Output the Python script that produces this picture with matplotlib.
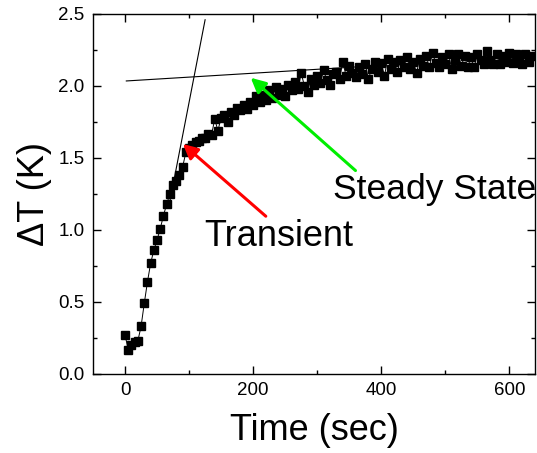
import numpy as np
import matplotlib.pyplot as plt
from matplotlib.ticker import MultipleLocator

plt.rcParams['font.family'] = ['Liberation Sans', 'DejaVu Sans']

# Temperature rise vs. time (5 s sampling)
t = [0, 5, 10, 15, 20, 25, 30, 35, 40, 45, 50, 55, 60, 65, 70, 75, 80, 85, 90, 95,
     100, 105, 110, 115, 120, 125, 130, 135, 140, 145, 150, 155, 160, 165, 170, 175,
     180, 185, 190, 195, 200, 205, 210, 215, 220, 225, 230, 235, 240, 245, 250, 255,
     260, 265, 270, 275, 280, 285, 290, 295, 300, 305, 310, 315, 320, 325, 330, 335,
     340, 345, 350, 355, 360, 365, 370, 375, 380, 385, 390, 395, 400, 405, 410, 415,
     420, 425, 430, 435, 440, 445, 450, 455, 460, 465, 470, 475, 480, 485, 490, 495,
     500, 505, 510, 515, 520, 525, 530, 535, 540, 545, 550, 555, 560, 565, 570, 575,
     580, 585, 590, 595, 600, 605, 610, 615, 620, 625, 630, 635]
dT = [0.27, 0.17, 0.20, 0.22, 0.23, 0.33, 0.49, 0.64, 0.77, 0.86, 0.93, 1.01, 1.10, 1.18,
      1.25, 1.31, 1.34, 1.38, 1.44, 1.54, 1.57, 1.59, 1.61, 1.62, 1.64, 1.64, 1.67, 1.66,
      1.77, 1.69, 1.78, 1.80, 1.75, 1.82, 1.80, 1.85, 1.83, 1.87, 1.84, 1.89, 1.87, 1.93,
      1.89, 1.94, 1.90, 1.97, 1.92, 1.99, 1.94, 1.98, 1.93, 2.01, 1.97, 2.03, 1.98, 2.09,
      2.00, 1.96, 2.05, 2.01, 2.07, 2.02, 2.11, 2.04, 2.01, 2.08, 2.10, 2.05, 2.17, 2.07,
      2.14, 2.09, 2.06, 2.13, 2.08, 2.15, 2.05, 2.12, 2.17, 2.10, 2.16, 2.07, 2.19, 2.12,
      2.17, 2.10, 2.18, 2.13, 2.20, 2.12, 2.17, 2.09, 2.19, 2.14, 2.21, 2.13, 2.23, 2.16,
      2.13, 2.20, 2.15, 2.22, 2.12, 2.18, 2.22, 2.14, 2.21, 2.13, 2.20, 2.13, 2.22, 2.18,
      2.15, 2.24, 2.18, 2.15, 2.22, 2.15, 2.21, 2.17, 2.23, 2.16, 2.22, 2.18, 2.15, 2.22,
      2.17, 2.21]

# tangent lines (start/end points)
rise_t = [70, 125]
rise_y = [1.20, 2.46]
flat_t = [2, 370]
flat_y = [2.035, 2.135]

fig = plt.figure(figsize=(5.37, 4.53), dpi=100)
ax = fig.add_axes([0.1732, 0.1744, 0.8231, 0.7947])

ax.plot(t, dT, color='black', lw=0.7, marker='s', ms=6.2, mec='black', mfc='black')
ax.plot(rise_t, rise_y, color='black', lw=0.8)
ax.plot(flat_t, flat_y, color='black', lw=0.8)

ax.annotate('', xy=(87, 1.61), xytext=(223, 1.083),
            arrowprops=dict(arrowstyle='-|>', color='red', lw=2.2, mutation_scale=22))
ax.annotate('', xy=(193, 2.07), xytext=(363, 1.40),
            arrowprops=dict(arrowstyle='-|>', color='#00ee00', lw=2.2, mutation_scale=22))
ax.text(124, 0.89, 'Transient', fontsize=26, va='baseline')
ax.text(324, 1.215, 'Steady State', fontsize=25.5, va='baseline')

ax.set_xlim(-50, 640)
ax.set_ylim(0, 2.5)
ax.xaxis.set_major_locator(MultipleLocator(200))
ax.xaxis.set_minor_locator(MultipleLocator(100))
ax.yaxis.set_major_locator(MultipleLocator(0.5))
ax.yaxis.set_minor_locator(MultipleLocator(0.25))
ax.yaxis.set_major_formatter(plt.FormatStrFormatter('%.1f'))
ax.tick_params(which='both', direction='in', top=True, right=True, labelsize=13.5, width=1)
ax.tick_params(which='major', length=6, pad=6)
ax.tick_params(which='minor', length=3)
for s in ax.spines.values():
    s.set_linewidth(1)

ax.set_xlabel('Time (sec)', fontsize=26, labelpad=10)
ax.set_ylabel('ΔT (K)', fontsize=26)
ax.yaxis.set_label_coords(-0.093, 0.5)

fig.savefig('out.png', dpi=100)
